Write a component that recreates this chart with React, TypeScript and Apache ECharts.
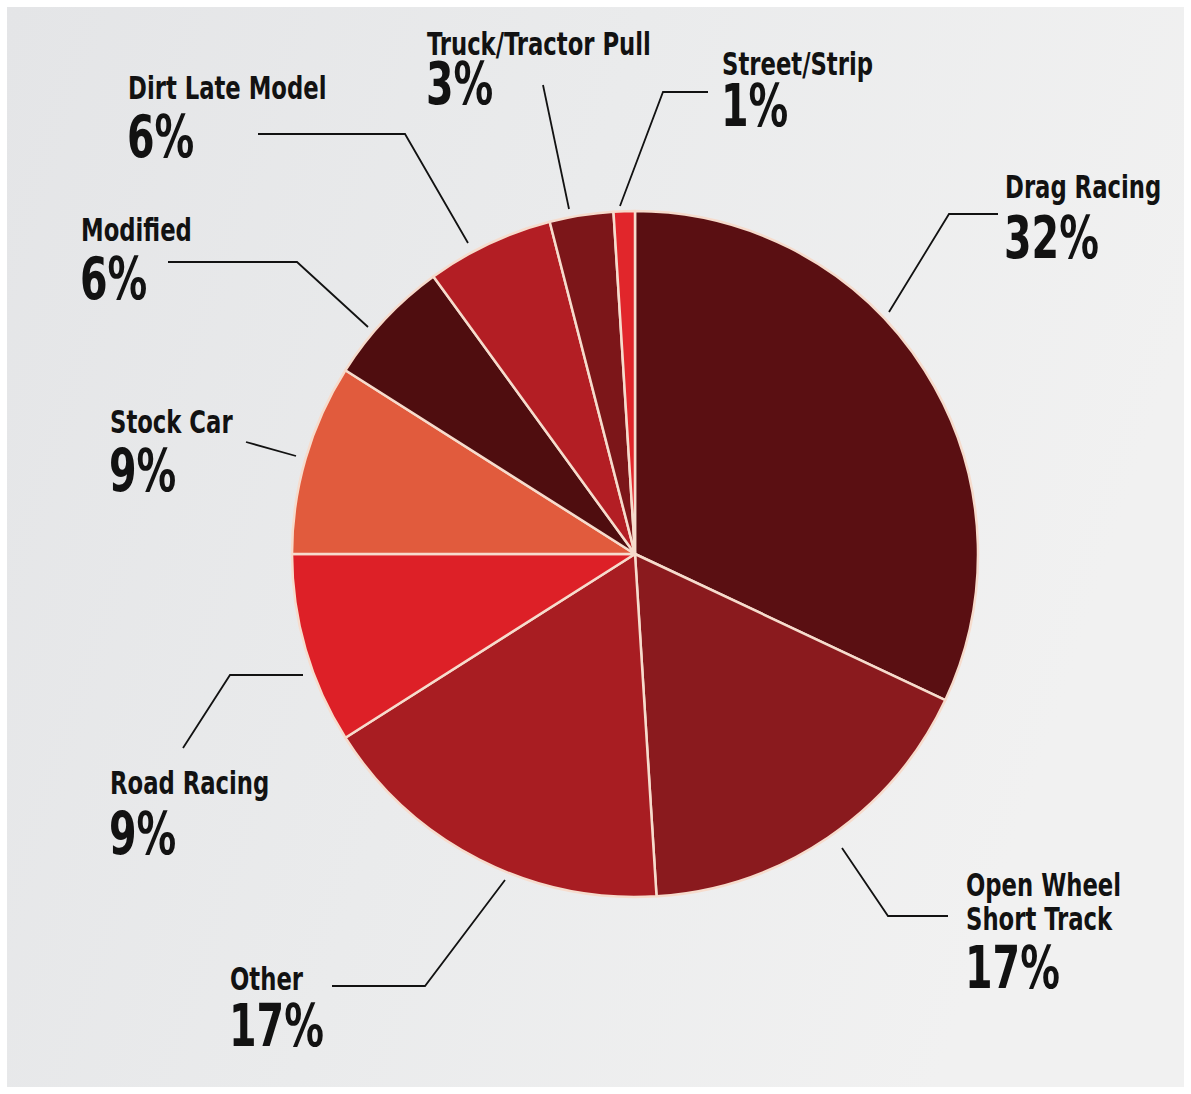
import React, { useEffect, useRef } from "react";
import * as echarts from "echarts";

// ---- data ----
const categories = [
  "Drag Racing",
  "Open Wheel\nShort Track",
  "Other",
  "Road Racing",
  "Stock Car",
  "Modified",
  "Dirt Late Model",
  "Truck/Tractor Pull",
  "Street/Strip",
];
const shares = [32, 17, 17, 9, 9, 6, 6, 3, 1];

// ---- styles / layout (kept apart from the data) ----
const sliceColors = [
  "#5a0f12",
  "#8a1a1e",
  "#a81d22",
  "#dd2027",
  "#e15b3d",
  "#4f0d0f",
  "#b31e24",
  "#7c1619",
  "#e1262b",
];
// label left x, cap-top of the name, cap-top of the percentage (page px)
const labelSpots: [number, number, number][] = [
  [1005, 175, 217],
  [966, 873, 947],
  [230, 967, 1005],
  [110, 771, 813],
  [110, 410, 450],
  [81, 218, 258],
  [128, 76, 116],
  [427, 32, 63],
  [722, 52, 85],
];
// leader line points (page px), from the pie towards the label
const leaderLines: [number, number][][] = [
  [[889, 312], [949, 214], [998, 214]],
  [[842, 848], [888, 916], [948, 916]],
  [[505, 880], [425, 986], [332, 986]],
  [[303, 675], [230, 675], [183, 748]],
  [[296, 456], [246, 442]],
  [[368, 327], [297, 262], [168, 262]],
  [[468, 243], [405, 134], [258, 134]],
  [[569, 209], [543, 85]],
  [[620, 206], [663, 92], [708, 92]],
];

const FONT = "'DejaVu Sans Condensed', 'DejaVu Sans', sans-serif";
const NAME_SIZE = 32;
const NAME_CAP = 23;
const NAME_LINE = 34;
const PCT_SIZE = 58;
const PCT_CAP = 42;
const NAME_SCALE = 0.79;
const PCT_SCALE = 0.76;
const INK = "#121212";

function buildLabels() {
  const out: any[] = [];
  categories.forEach((name, i) => {
    const [x, nameTop, pctTop] = labelSpots[i];
    name.split("\n").forEach((line, k) => {
      out.push({
        type: "text",
        x,
        y: nameTop + NAME_CAP / 2 + k * NAME_LINE,
        scaleX: NAME_SCALE,
        silent: true,
        z: 10,
        style: {
          text: line,
          x: 0,
          y: 0,
          fill: INK,
          font: `bold ${NAME_SIZE}px ${FONT}`,
          textAlign: "left",
          textVerticalAlign: "middle",
        },
      });
    });
    out.push({
      type: "text",
      x: x - 1,
      y: pctTop + PCT_CAP / 2,
      scaleX: PCT_SCALE,
      silent: true,
      z: 10,
      style: {
        text: `${shares[i]}%`,
        x: 0,
        y: 0,
        fill: INK,
        font: `bold ${PCT_SIZE}px ${FONT}`,
        textAlign: "left",
        textVerticalAlign: "middle",
      },
    });
    out.push({
      type: "polyline",
      silent: true,
      z: 10,
      shape: { points: leaderLines[i] },
      style: { stroke: INK, lineWidth: 1.8, fill: null },
    });
  });
  return out;
}

export default function App() {
  const ref = useRef<HTMLDivElement>(null);
  useEffect(() => {
    document.body.style.margin = "0";
    const chart = echarts.init(ref.current!, null, { renderer: "svg" });
    chart.setOption({
      animation: false,
      backgroundColor: "#ffffff",
      graphic: [
        {
          type: "rect",
          z: -10,
          silent: true,
          shape: { x: 7, y: 7, width: 1177, height: 1080 },
          style: {
            fill: new echarts.graphic.LinearGradient(0, 0, 1, 0.3, [
              { offset: 0, color: "#e4e5e7" },
              { offset: 0.5, color: "#eaebec" },
              { offset: 1, color: "#f1f1f1" },
            ]),
          },
        },
        ...buildLabels(),
      ],
      series: [
        {
          type: "pie",
          center: [635, 554],
          radius: 343,
          startAngle: 90,
          clockwise: true,
          emphasis: { disabled: true },
          itemStyle: { borderColor: "#f6dccd", borderWidth: 2.5 },
          label: { show: false },
          labelLine: { show: false },
          data: categories.map((name, i) => ({
            name,
            value: shares[i],
            itemStyle: { color: sliceColors[i] },
          })),
        },
      ],
    });
    return () => chart.dispose();
  }, []);
  return <div ref={ref} style={{ width: 1191, height: 1094 }} />;
}
